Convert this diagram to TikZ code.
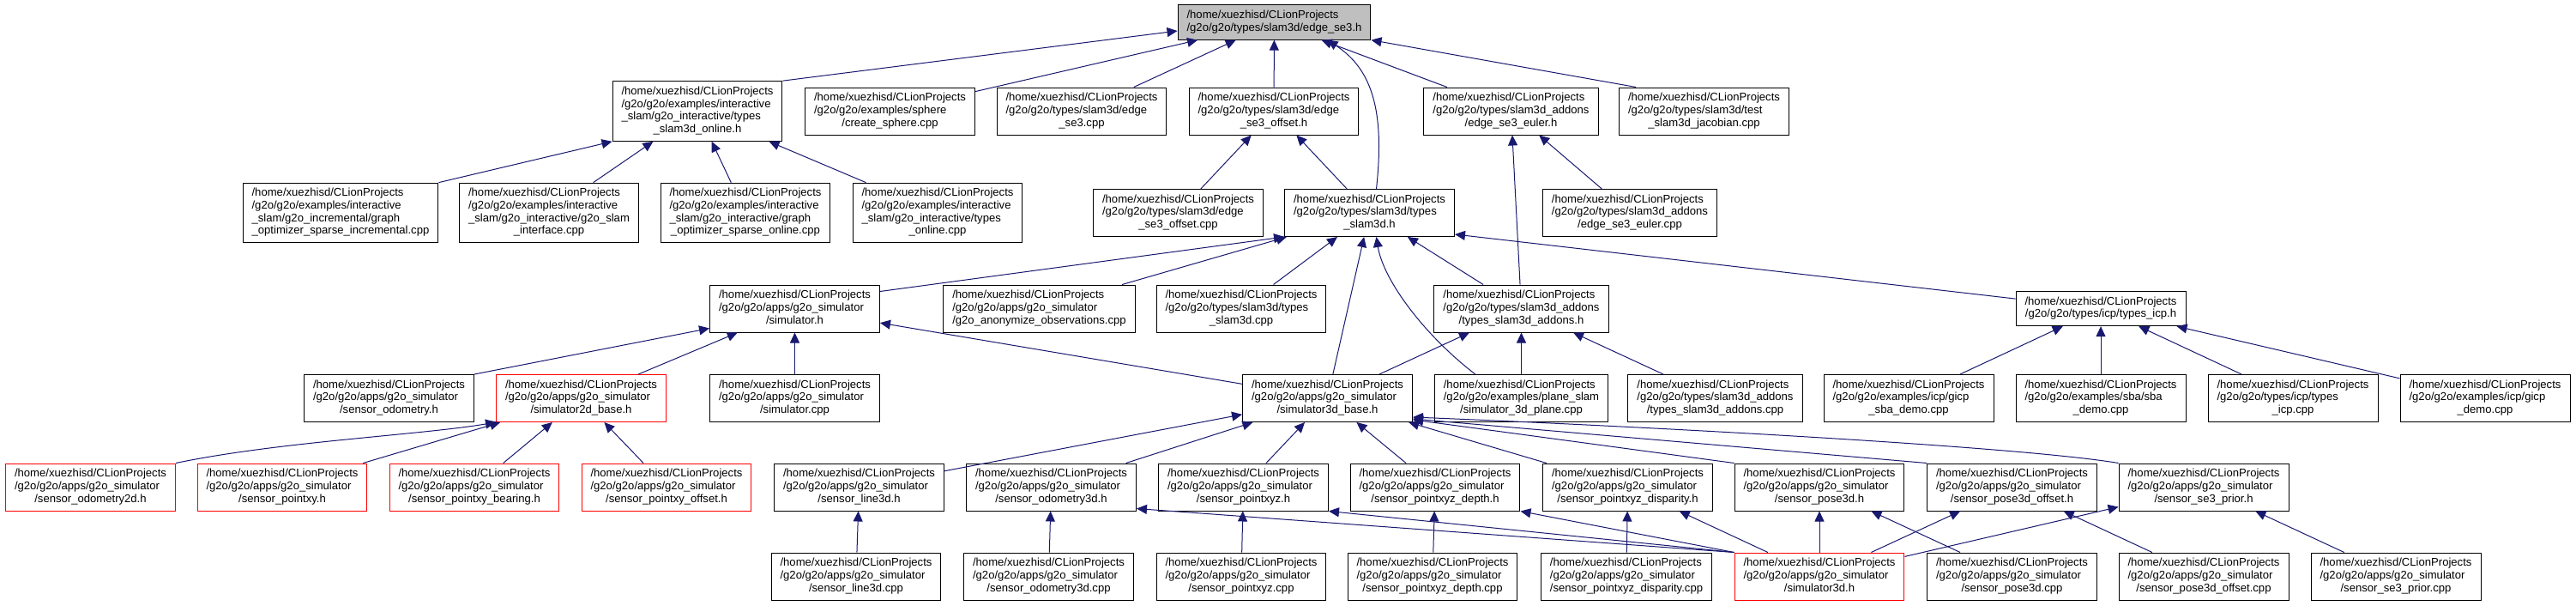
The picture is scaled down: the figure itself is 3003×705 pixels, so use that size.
\documentclass[tikz,border=0pt]{standalone}
\usepackage{fontspec}
\setmainfont{Liberation Sans}
\usetikzlibrary{arrows.meta}
\definecolor{edgeblue}{RGB}{25,25,112}
\definecolor{rootbg}{RGB}{191,191,191}
\newcommand{\prj}{/home/xuezhisd/CLionProjects}
\newcommand{\gsim}{/g2o/g2o/apps/g2o\_simulator}
\newcommand{\flines}[2]{\begin{tabular}{@{}l@{}}#1\\\multicolumn{1}{@{}c@{}}{#2}\end{tabular}}

\begin{document}
\begin{tikzpicture}[
        x=1pt, y=-1pt,
        box/.style={draw=black, rectangle, line width=1pt, fill=white, inner xsep=10.5pt, inner ysep=5.45pt, font=\fontsize{13.1}{14.7}\selectfont},
        rbox/.style={box, draw=red},
        arr/.style={-{Triangle[length=12pt,width=11pt]}, draw=edgeblue, line width=1pt}
    ]
    \path[fill=white] (0,0) rectangle (3003,705);
    \useasboundingbox (0,0) rectangle (3003,705);

    % row 0
    \node[box, fill=rootbg] (edgeh) at (1485.5,26) {\flines{\prj}{/g2o/g2o/types/slam3d/edge\_se3.h}};

    % row 1
    \node[box] (onlineh) at (813,129.5) {\flines{\prj\\/g2o/g2o/examples/interactive\\\_slam/g2o\_interactive/types}{\_slam3d\_online.h}};
    \node[box] (spherecpp) at (1037.5,129.5) {\flines{\prj\\/g2o/g2o/examples/sphere}{/create\_sphere.cpp}};
    \node[box] (edgecpp) at (1261,129.5) {\flines{\prj\\/g2o/g2o/types/slam3d/edge}{\_se3.cpp}};
    \node[box] (offseth) at (1485,129.5) {\flines{\prj\\/g2o/g2o/types/slam3d/edge}{\_se3\_offset.h}};
    \node[box] (eulerh) at (1761.5,129.5) {\flines{\prj\\/g2o/g2o/types/slam3d\_addons}{/edge\_se3\_euler.h}};
    \node[box] (jacobcpp) at (1986.5,129.5) {\flines{\prj\\/g2o/g2o/types/slam3d/test}{\_slam3d\_jacobian.cpp}};

    % row 2
    \node[box] (increcpp) at (397,248) {\flines{\prj\\/g2o/g2o/examples/interactive\\\_slam/g2o\_incremental/graph}{\_optimizer\_sparse\_incremental.cpp}};
    \node[box] (ifacecpp) at (640,248) {\flines{\prj\\/g2o/g2o/examples/interactive\\\_slam/g2o\_interactive/g2o\_slam}{\_interface.cpp}};
    \node[box] (sparsecpp) at (869,248) {\flines{\prj\\/g2o/g2o/examples/interactive\\\_slam/g2o\_interactive/graph}{\_optimizer\_sparse\_online.cpp}};
    \node[box] (onlinecpp) at (1093,248) {\flines{\prj\\/g2o/g2o/examples/interactive\\\_slam/g2o\_interactive/types}{\_online.cpp}};
    \node[box] (offsetcpp) at (1373.5,248) {\flines{\prj\\/g2o/g2o/types/slam3d/edge}{\_se3\_offset.cpp}};
    \node[box] (typesh) at (1596.5,248) {\flines{\prj\\/g2o/g2o/types/slam3d/types}{\_slam3d.h}};
    \node[box] (eulercpp) at (1900,248) {\flines{\prj\\/g2o/g2o/types/slam3d\_addons}{/edge\_se3\_euler.cpp}};

    % row 3
    \node[box] (simh) at (926.5,359.5) {\flines{\prj\\\gsim}{/simulator.h}};
    \node[box] (anoncpp) at (1211.5,359.5) {\flines{\prj\\\gsim}{/g2o\_anonymize\_observations.cpp}};
    \node[box] (typescpp) at (1447,359.5) {\flines{\prj\\/g2o/g2o/types/slam3d/types}{\_slam3d.cpp}};
    \node[box] (addonsh) at (1773.5,359.5) {\flines{\prj\\/g2o/g2o/types/slam3d\_addons}{/types\_slam3d\_addons.h}};
    \node[box] (icph) at (2449,359.5) {\flines{\prj}{/g2o/g2o/types/icp/types\_icp.h}};

    % row 4
    \node[box] (odoh) at (453.5,464) {\flines{\prj\\\gsim}{/sensor\_odometry.h}};
    \node[rbox] (simtwoh) at (677.5,464) {\flines{\prj\\\gsim}{/simulator2d\_base.h}};
    \node[box] (simcpp) at (926.5,464) {\flines{\prj\\\gsim}{/simulator.cpp}};
    \node[box] (simbaseh) at (1547.5,464) {\flines{\prj\\\gsim}{/simulator3d\_base.h}};
    \node[box] (planecpp) at (1773.5,464) {\flines{\prj\\/g2o/g2o/examples/plane\_slam}{/simulator\_3d\_plane.cpp}};
    \node[box] (addonscpp) at (1999.5,464) {\flines{\prj\\/g2o/g2o/types/slam3d\_addons}{/types\_slam3d\_addons.cpp}};
    \node[box] (gicpsbacpp) at (2225,464) {\flines{\prj\\/g2o/g2o/examples/icp/gicp}{\_sba\_demo.cpp}};
    \node[box] (sbacpp) at (2449,464) {\flines{\prj\\/g2o/g2o/examples/sba/sba}{\_demo.cpp}};
    \node[box] (icpcpp) at (2673,464) {\flines{\prj\\/g2o/g2o/types/icp/types}{\_icp.cpp}};
    \node[box] (gicpcpp) at (2897,464) {\flines{\prj\\/g2o/g2o/examples/icp/gicp}{\_demo.cpp}};

    % row 5
    \node[rbox] (odotwoh) at (105.5,567.5) {\flines{\prj\\\gsim}{/sensor\_odometry2d.h}};
    \node[rbox] (pxyh) at (329,567.5) {\flines{\prj\\\gsim}{/sensor\_pointxy.h}};
    \node[rbox] (bearingh) at (553,567.5) {\flines{\prj\\\gsim}{/sensor\_pointxy\_bearing.h}};
    \node[rbox] (pxyoffh) at (777,567.5) {\flines{\prj\\\gsim}{/sensor\_pointxy\_offset.h}};
    \node[box] (lineh) at (1001.5,567.5) {\flines{\prj\\\gsim}{/sensor\_line3d.h}};
    \node[box] (odoth) at (1225.5,567.5) {\flines{\prj\\\gsim}{/sensor\_odometry3d.h}};
    \node[box] (pxyzh) at (1449.5,567.5) {\flines{\prj\\\gsim}{/sensor\_pointxyz.h}};
    \node[box] (depthh) at (1673,567.5) {\flines{\prj\\\gsim}{/sensor\_pointxyz\_depth.h}};
    \node[box] (disph) at (1897.5,567.5) {\flines{\prj\\\gsim}{/sensor\_pointxyz\_disparity.h}};
    \node[box] (poseh) at (2121,567.5) {\flines{\prj\\\gsim}{/sensor\_pose3d.h}};
    \node[box] (poseoffh) at (2345.5,567.5) {\flines{\prj\\\gsim}{/sensor\_pose3d\_offset.h}};
    \node[box] (priorh) at (2569,567.5) {\flines{\prj\\\gsim}{/sensor\_se3\_prior.h}};

    % row 6
    \node[box] (linecpp) at (998,671.5) {\flines{\prj\\\gsim}{/sensor\_line3d.cpp}};
    \node[box] (odotcpp) at (1222.5,671.5) {\flines{\prj\\\gsim}{/sensor\_odometry3d.cpp}};
    \node[box] (pxyzcpp) at (1447,671.5) {\flines{\prj\\\gsim}{/sensor\_pointxyz.cpp}};
    \node[box] (depthcpp) at (1670,671.5) {\flines{\prj\\\gsim}{/sensor\_pointxyz\_depth.cpp}};
    \node[box] (dispcpp) at (1896,671.5) {\flines{\prj\\\gsim}{/sensor\_pointxyz\_disparity.cpp}};
    \node[rbox] (simthreeh) at (2121,671.5) {\flines{\prj\\\gsim}{/simulator3d.h}};
    \node[box] (posecpp) at (2345.5,671.5) {\flines{\prj\\\gsim}{/sensor\_pose3d.cpp}};
    \node[box] (poseoffcpp) at (2569,671.5) {\flines{\prj\\\gsim}{/sensor\_pose3d\_offset.cpp}};
    \node[box] (priorcpp) at (2793,671.5) {\flines{\prj\\\gsim}{/sensor\_se3\_prior.cpp}};

    % includes of edge_se3.h
    \draw[arr] (onlineh.north east) -- ([yshift=-10pt]edgeh.west);
    \draw[arr] (spherecpp) -- (edgeh);
    \draw[arr] (edgecpp) -- (edgeh);
    \draw[arr] (offseth) -- (edgeh);
    \draw[arr] ([xshift=8pt]typesh.north) .. controls +(10,-91) and +(52,34) .. ([xshift=62pt]edgeh.south);
    \draw[arr] (eulerh) -- (edgeh);
    \draw[arr] ([xshift=20pt]jacobcpp.north west) -- (edgeh.south east);

    \draw[arr] (increcpp.north east) -- (onlineh.south west);
    \draw[arr] (ifacecpp) -- (onlineh);
    \draw[arr] (sparsecpp) -- (onlineh);
    \draw[arr] (onlinecpp) -- (onlineh);
    \draw[arr] (offsetcpp) -- (offseth);
    \draw[arr] (typesh) -- (offseth);
    \draw[arr] (eulercpp) -- (eulerh);
    \draw[arr] (addonsh) -- (eulerh);

    % includes of types_slam3d.h
    \draw[arr] ([yshift=-8pt]simh.north east) -- (typesh.south west);
    \draw[arr] (anoncpp) -- (typesh);
    \draw[arr] (typescpp) -- (typesh);
    \draw[arr] (simbaseh) -- (typesh);
    \draw[arr] ([xshift=48pt]planecpp.north west) .. controls +(-60,-46) and +(8,50) .. ([xshift=8pt]typesh.south);
    \draw[arr] (addonsh) -- (typesh);
    \draw[arr] (icph) -- ([yshift=3pt]typesh.south east);

    \draw[arr] (simbaseh) -- (addonsh);
    \draw[arr] (planecpp) -- (addonsh);
    \draw[arr] (addonscpp) -- (addonsh);
    \draw[arr] (gicpsbacpp) -- (icph);
    \draw[arr] (sbacpp) -- (icph);
    \draw[arr] (icpcpp) -- (icph);
    \draw[arr] (gicpcpp) -- (icph);

    % simulator headers
    \draw[arr] (odoh.north east) -- ([yshift=5pt]simh.south west);
    \draw[arr] (simtwoh) -- (simh);
    \draw[arr] (simcpp) -- (simh);
    \draw[arr] (simbaseh) -- (simh);

    \draw[arr] (odotwoh.north east) .. controls +(120,-25) and +(-90,15) .. (simtwoh.south west);
    \draw[arr] (pxyh) -- (simtwoh);
    \draw[arr] (bearingh) -- (simtwoh);
    \draw[arr] (pxyoffh) -- (simtwoh);

    \draw[arr] (lineh) -- (simbaseh);
    \draw[arr] (odoth) -- (simbaseh);
    \draw[arr] (pxyzh) -- (simbaseh);
    \draw[arr] (depthh) -- (simbaseh);
    \draw[arr] (disph) -- (simbaseh);
    \draw[arr] (poseh.north west) -- ([yshift=3pt]simbaseh.south east);
    \draw[arr] (poseoffh.north west) -- ([yshift=4pt]simbaseh.south east);
    \draw[arr] (priorh.north west) .. controls +(-120,-20) and +(250,10) .. ([yshift=6pt]simbaseh.south east);

    % simulator3d.h
    \draw[arr] (simthreeh.north west) -- ([yshift=3pt]odoth.south east);
    \draw[arr] (simthreeh.north west) -- (pxyzh.south east);
    \draw[arr] (simthreeh.north west) -- (depthh.south east);
    \draw[arr] (simthreeh) -- (disph);
    \draw[arr] (simthreeh) -- (poseh);
    \draw[arr] (simthreeh) -- (poseoffh);
    \draw[arr] (simthreeh) -- (priorh);

    \draw[arr] (linecpp) -- (lineh);
    \draw[arr] (odotcpp) -- (odoth);
    \draw[arr] (pxyzcpp) -- (pxyzh);
    \draw[arr] (depthcpp) -- (depthh);
    \draw[arr] (dispcpp) -- (disph);
    \draw[arr] (posecpp) -- (poseh);
    \draw[arr] (poseoffcpp) -- (poseoffh);
    \draw[arr] (priorcpp) -- (priorh);

\end{tikzpicture}
\end{document}
